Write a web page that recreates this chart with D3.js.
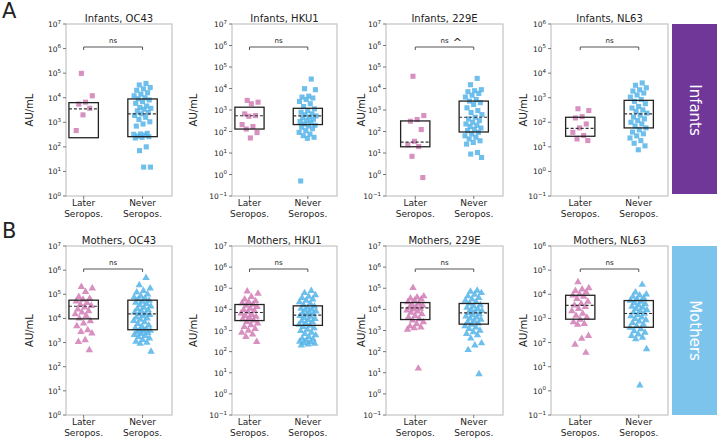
<!DOCTYPE html>
<html lang="en">
<head>
<meta charset="UTF-8">
<title>Seropositivity AU/mL</title>
<script src="https://d3js.org/d3.v7.min.js"></script>
<style>
  body { margin: 0; background: #fff; }
  svg text { font-family: "DejaVu Sans", sans-serif; fill: #222; }
</style>
</head>
<body>
<div id="chart"></div>
<script>
// ---- data (AU/mL) ----
const groups = ["Later|Seropos.", "Never|Seropos."];
const strains = ["OC43", "HKU1", "229E", "NL63"];
const rows = ["Infants", "Mothers"];
const yMinExp = [[0, -1, -1, -1], [0, -1, -1, -1]];
const yMaxExp = [[7, 7, 7, 6], [7, 7, 7, 6]];

const infOC43Later = [98000, 12000, 6600, 5500, 3700, 2000, 460];
const infOC43Never = [38000, 33000, 26000, 23000, 20000, 16000, 14000, 12000, 10000, 9100, 8100, 6900, 5900, 4600, 4000, 3700, 3400, 2900, 2500, 2200, 1900, 1600, 1300, 1050, 850, 700, 355, 335, 325, 300, 275, 260, 245, 230, 100, 70, 15, 15];
const infHKU1Later = [2800, 2300, 1950, 660, 550, 510, 210, 170, 130, 89, 50];
const infHKU1Never = [27500, 9800, 8800, 4400, 4000, 3600, 3100, 2500, 1950, 1450, 1130, 950, 790, 660, 600, 530, 460, 430, 370, 320, 290, 260, 225, 195, 180, 157, 135, 110, 91, 76, 64, 54, 48, 0.5];
const inf229ELater = [37000, 550, 360, 300, 123, 35, 24, 20, 7, 0.72];
const inf229ENever = [29500, 15000, 8800, 7900, 7100, 5900, 4900, 4000, 3100, 2600, 2200, 1800, 1260, 940, 760, 610, 460, 385, 320, 270, 225, 195, 170, 145, 126, 110, 91, 76, 63, 54, 45, 37, 31, 26, 10.5, 8.9, 6.2];
const infNL63Later = [355, 300, 170, 150, 85, 59, 39, 29, 21, 18];
const infNL63Never = [4000, 3200, 2550, 2100, 1870, 1550, 1290, 1060, 850, 710, 570, 440, 380, 320, 277, 235, 195, 162, 138, 118, 100, 86, 71, 59, 49, 40, 34, 28, 23, 18, 14, 11, 7.6];

const motOC43Later = [205000, 175000, 126000, 78000, 66000, 60000, 51000, 44000, 38000, 33000, 29000, 24000, 20000, 17700, 15000, 12700, 10000, 7800, 6200, 4800, 3300, 2800, 2400, 1270, 1070, 490];
const motOC43Never = [480000, 240000, 175000, 140000, 120000, 100000, 85000, 75000, 68000, 62000, 55000, 50000, 45000, 40000, 36000, 32000, 28000, 25000, 22000, 20000, 18000, 16000, 15000, 14000, 12500, 11000, 10000, 9000, 8000, 7000, 6000, 5200, 4500, 4000, 3600, 3300, 3100, 2900, 2700, 2500, 2300, 2100, 1900, 1700, 1500, 1300, 1100, 1000, 900, 420];
const motHKU1Later = [72000, 56000, 39000, 30000, 25000, 22000, 20000, 17000, 15000, 13000, 11000, 9500, 8500, 7500, 6500, 5500, 5000, 4500, 4000, 3500, 3000, 2600, 2200, 1800, 1500, 1200, 1000, 800, 650, 500, 290];
const motHKU1Never = [75000, 60000, 48000, 40000, 35000, 30000, 26000, 22000, 19000, 16000, 14000, 12000, 11000, 10000, 9000, 8000, 7200, 6500, 6000, 5500, 5000, 4500, 4000, 3600, 3200, 2800, 2500, 2200, 1900, 1700, 1500, 1300, 1100, 950, 800, 700, 600, 500, 420, 380, 340, 300, 280, 260, 240, 220, 200];
const mot229ELater = [105000, 42000, 37000, 33000, 30000, 26000, 22000, 19000, 17000, 15000, 13000, 12000, 11000, 10000, 9000, 8000, 7000, 6000, 5000, 4200, 3500, 3000, 2500, 2000, 1600, 1400, 1300, 1100, 16];
const mot229ENever = [78000, 70000, 60000, 50000, 42000, 35000, 30000, 26000, 22000, 19000, 16000, 14000, 12000, 10500, 9500, 8500, 7500, 6800, 6000, 5300, 4700, 4200, 3700, 3300, 2900, 2500, 2200, 1900, 1600, 1400, 1200, 1000, 850, 700, 600, 420, 250, 200, 120, 8.7];
const motNL63Later = [32000, 18000, 16000, 14000, 12000, 10000, 9000, 8000, 6500, 5000, 4000, 3500, 3000, 2500, 2000, 1600, 1300, 1100, 900, 700, 600, 550, 190, 145, 83, 38];
const motNL63Never = [25000, 12000, 10000, 9000, 8000, 7000, 6200, 5500, 5000, 4400, 3900, 3500, 3100, 2800, 2500, 2200, 2000, 1800, 1600, 1400, 1250, 1100, 950, 850, 750, 650, 560, 480, 420, 360, 300, 260, 220, 190, 160, 140, 54, 1.7];

// box stats per panel: [Later, Never] -> [q1, median, q3]
const boxInfants = [
  [[235, 3500, 6300], [260, 2200, 8900]],
  [[130, 540, 1350], [210, 530, 1200]],
  [[19.5, 32, 310], [95, 460, 2600]],
  [[27, 57, 160], [59, 220, 780]]
];
const boxMothers = [
  [[9600, 32000, 57000], [3400, 15500, 57000]],
  [[2950, 7100, 17000], [1750, 5300, 14700]],
  [[3300, 11700, 21000], [2000, 6800, 19000]],
  [[930, 3500, 9100], [430, 1600, 5500]]
];
const sigLabels = [["ns", "ns", "ns", "ns"], ["ns", "ns", "ns", "ns"]];

const points = [
  [[infOC43Later, infOC43Never], [infHKU1Later, infHKU1Never], [inf229ELater, inf229ENever], [infNL63Later, infNL63Never]],
  [[motOC43Later, motOC43Never], [motHKU1Later, motHKU1Never], [mot229ELater, mot229ENever], [motNL63Later, motNL63Never]]
];
const boxes = [boxInfants, boxMothers];

// ---- layout ----
const W = 720, H = 439;
const colX = [[66, 172], [232, 337], [386, 503], [551, 668]];
const xDom = [[-0.3, 1.5], [-0.3, 1.5], [-0.5, 1.5], [-0.5, 1.5]];
const rowY = [[24, 196], [246, 415]];
const ylabX = [33, 197, 365, 527];
const colors = ["#d17db5", "#56b4e9"];
const sideColors = ["#703799", "#7cc4ec"];

const svg = d3.select("#chart").append("svg")
  .attr("width", W).attr("height", H);

// deterministic jitter (position only)
function jit(i) {
  return (((i * 0.6180339887) + 0.37) % 1 - 0.5) * 0.3;
}

rows.forEach(function(rowName, r) {
  const top = rowY[r][0], bottom = rowY[r][1];

  strains.forEach(function(strain, c) {
    const left = colX[c][0], right = colX[c][1];
    const x = d3.scaleLinear().domain(xDom[c]).range([left, right]);
    const y = d3.scaleLog()
      .domain([Math.pow(10, yMinExp[r][c]), Math.pow(10, yMaxExp[r][c])])
      .range([bottom, top]);

    const g = svg.append("g");

    // frame
    g.append("rect")
      .attr("x", left).attr("y", top)
      .attr("width", right - left).attr("height", bottom - top)
      .attr("fill", "none").attr("stroke", "#c4c4c4").attr("stroke-width", 1.2);

    // y ticks
    const exps = d3.range(yMinExp[r][c], yMaxExp[r][c] + 1);
    exps.forEach(function(e) {
      const yy = y(Math.pow(10, e));
      g.append("line")
        .attr("x1", left - 3).attr("x2", left)
        .attr("y1", yy).attr("y2", yy)
        .attr("stroke", "#555").attr("stroke-width", 0.8);
      const t = g.append("text")
        .attr("x", left - 5).attr("y", yy + 3)
        .attr("text-anchor", "end")
        .style("font-size", "7.5px");
      t.append("tspan").text("10");
      t.append("tspan").attr("dy", -3.5).style("font-size", "5.5px")
        .text(e < 0 ? "\u2212" + (-e) : e);
    });

    // x tick labels
    groups.forEach(function(lbl, k) {
      const parts = lbl.split("|");
      g.append("line")
        .attr("x1", x(k)).attr("x2", x(k))
        .attr("y1", bottom).attr("y2", bottom + 3)
        .attr("stroke", "#555").attr("stroke-width", 0.8);
      parts.forEach(function(p, j) {
        g.append("text")
          .attr("x", x(k)).attr("y", bottom + 10 + j * 10.5)
          .attr("text-anchor", "middle")
          .style("font-size", "9px")
          .text(p);
      });
    });

    // title
    g.append("text")
      .attr("x", (left + right) / 2).attr("y", top - 2)
      .attr("text-anchor", "middle")
      .style("font-size", "10px")
      .text(rowName + ", " + strain);

    // y label
    g.append("text")
      .attr("transform", "translate(" + ylabX[c] + "," + ((top + bottom) / 2) + ") rotate(-90)")
      .attr("text-anchor", "middle")
      .style("font-size", "10px")
      .text("AU/mL");

    // points
    points[r][c].forEach(function(vals, k) {
      const sym = d3.symbol()
        .type(r === 0 ? d3.symbolSquare : d3.symbolTriangle)
        .size(r === 0 ? 26 : 24);
      g.append("g").selectAll("path")
        .data(vals)
        .enter()
        .append("path")
        .attr("d", sym)
        .attr("transform", function(d, i) {
          return "translate(" + x(k + jit(i + k * 7)) + "," + y(d) + ")";
        })
        .attr("fill", colors[k])
        .attr("opacity", 0.85);
    });

    // boxes
    boxes[r][c].forEach(function(b, k) {
      g.append("rect")
        .attr("x", x(k - 0.25)).attr("y", y(b[2]))
        .attr("width", x(k + 0.25) - x(k - 0.25))
        .attr("height", y(b[0]) - y(b[2]))
        .attr("fill", "none").attr("stroke", "#222").attr("stroke-width", 1.3);
      g.append("line")
        .attr("x1", x(k - 0.25)).attr("x2", x(k + 0.25))
        .attr("y1", y(b[1])).attr("y2", y(b[1]))
        .attr("stroke", "#333").attr("stroke-width", 1.2)
        .attr("stroke-dasharray", "3,2");
    });

    // significance bracket
    const by = top + 23;
    g.append("path")
      .attr("d", "M" + x(0) + "," + (by + 3) + "V" + by + "H" + x(1) + "V" + (by + 3))
      .attr("fill", "none").attr("stroke", "#555").attr("stroke-width", 1);
    g.append("text")
      .attr("x", (x(0) + x(1)) / 2).attr("y", by - 4)
      .attr("text-anchor", "middle")
      .style("font-size", "7px")
      .text(sigLabels[r][c]);
    if (r === 0 && c === 2) {
      g.append("text")
        .attr("x", x(0.72)).attr("y", by - 1)
        .attr("text-anchor", "middle")
        .style("font-size", "11px")
        .text("^");
    }
  });

  // side label box
  const sg = svg.append("g");
  sg.append("rect")
    .attr("x", 672).attr("y", top)
    .attr("width", 45).attr("height", bottom - top - (r === 0 ? 2 : 0))
    .attr("fill", sideColors[r]);
  sg.append("text")
    .attr("transform", "translate(" + 690 + "," + ((top + bottom) / 2) + ") rotate(90)")
    .attr("text-anchor", "middle")
    .style("font-size", "15px")
    .style("fill", "#fff")
    .text(rowName);
});

// panel letters
svg.append("text").attr("x", 2).attr("y", 18).style("font-size", "21px").text("A");
svg.append("text").attr("x", 2).attr("y", 238).style("font-size", "21px").text("B");
</script>
</body>
</html>
